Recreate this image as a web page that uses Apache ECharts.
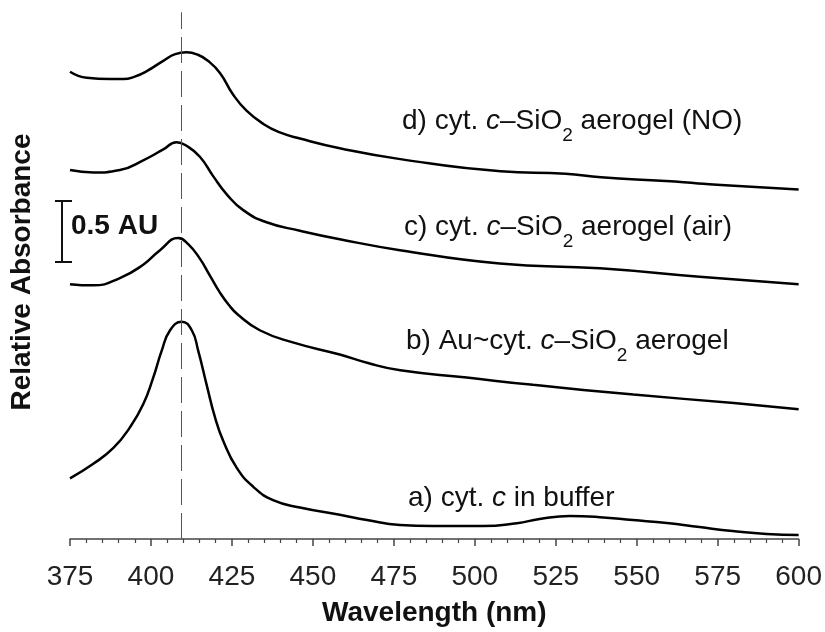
<!DOCTYPE html>
<html>
<head>
<meta charset="utf-8">
<script src="https://cdn.jsdelivr.net/npm/echarts@6/dist/echarts.min.js"></script>
<style>
  html, body { margin: 0; padding: 0; background: #fff; }
  #chart { width: 825px; height: 632px; }
</style>
</head>
<body>
<div id="chart"></div>
<script>
// spectra: [wavelength (nm), relative absorbance (AU, offset per trace)]
const curveA = [
  [375, 0.50], [382.2, 0.62], [388.4, 0.75], [393.5, 0.92], [397.6, 1.11], [400.7, 1.33],
  [403.3, 1.55], [405.9, 1.72], [409.5, 1.79], [412.6, 1.72], [414.6, 1.55], [417.2, 1.27],
  [419.8, 1.00], [422.3, 0.81], [426.4, 0.59], [431.6, 0.43], [437.7, 0.32], [446, 0.26],
  [458.3, 0.20], [466.7, 0.156], [476.9, 0.115], [487, 0.107], [502.5, 0.107],
  [513, 0.13], [520, 0.164], [529.3, 0.189], [538.6, 0.18], [548.8, 0.156], [559.3, 0.131],
  [569.4, 0.098], [579.6, 0.066], [590.1, 0.041], [600, 0.033]
];
const curveB = [
  [375, 2.10], [382.2, 2.09], [390.4, 2.15], [397.6, 2.26], [402.8, 2.38], [408.4, 2.48],
  [411.5, 2.43], [415.1, 2.31], [418.2, 2.17], [421.3, 2.03], [424, 1.93], [426.8, 1.85],
  [433.6, 1.72], [443.8, 1.62], [458.3, 1.52], [467, 1.45], [477, 1.39], [497.5, 1.33],
  [518, 1.27], [549, 1.19], [580, 1.12], [600, 1.07]
];
const curveC = [
  [375, 3.04], [382.2, 3.02], [390.4, 3.04], [397.6, 3.12], [403.8, 3.21], [407.9, 3.27],
  [411, 3.24], [415.1, 3.15], [419.2, 2.99], [423.4, 2.84], [428.5, 2.71], [435.7, 2.61],
  [446, 2.54], [458.3, 2.47], [476.9, 2.38], [507.7, 2.27], [538.6, 2.23], [569.4, 2.16],
  [600, 2.10]
];
const curveD = [
  [375, 3.85], [380.2, 3.80], [387.3, 3.79], [391.5, 3.79], [395, 3.81], [398.7, 3.855],
  [403.8, 3.94], [407.5, 3.995], [411, 4.01], [414.5, 3.99], [417.6, 3.94], [421.3, 3.84],
  [425.4, 3.66], [429.5, 3.53], [434.7, 3.42], [439.8, 3.35], [446, 3.30], [458.3, 3.22],
  [477, 3.13], [508, 3.03], [528, 3.01], [539, 2.98], [559, 2.95], [569, 2.93], [580, 2.91],
  [600, 2.88]
];
const peakLine = 409.5;
const labelTexts = [
  'd) cyt. {i|c}\u2013SiO{sub|2} aerogel (NO)',
  'c) cyt. {i|c}\u2013SiO{sub|2} aerogel (air)',
  'b) Au~cyt. {i|c}\u2013SiO{sub|2} aerogel',
  'a) cyt. {i|c} in buffer'
];

const FONT = '"Liberation Sans", Arial, sans-serif';
const chart = echarts.init(document.getElementById('chart'));

function trace(data) {
  return {
    type: 'line',
    data: data,
    smooth: 0.5,
    showSymbol: false,
    silent: true,
    lineStyle: { color: '#000', width: 2.5 }
  };
}

const labelPos = [[402, 121], [404, 227], [406, 341], [408, 498]];
const rich = {
  i: { fontStyle: 'italic', fontSize: 28, fontFamily: FONT, fill: '#111' },
  sub: { fontSize: 19, fontFamily: FONT, padding: [30, 0, 0, 0], fill: '#111' }
};

const graphics = labelTexts.map((t, k) => ({
  type: 'text',
  x: labelPos[k][0],
  y: labelPos[k][1],
  silent: true,
  style: {
    text: t,
    fontSize: 28,
    fontFamily: FONT,
    fill: '#111',
    textAlign: 'left',
    textVerticalAlign: 'middle',
    rich: rich
  }
}));

// 0.5 AU scale bar
graphics.push(
  { type: 'line', silent: true, shape: { x1: 62, y1: 201, x2: 62, y2: 262 }, style: { stroke: '#111', lineWidth: 2 } },
  { type: 'line', silent: true, shape: { x1: 55, y1: 201, x2: 72, y2: 201 }, style: { stroke: '#111', lineWidth: 2 } },
  { type: 'line', silent: true, shape: { x1: 55, y1: 262, x2: 72, y2: 262 }, style: { stroke: '#111', lineWidth: 2 } },
  {
    type: 'text', silent: true, x: 71, y: 226,
    style: { text: '0.5 AU', fontSize: 28, fontWeight: 'bold', fontFamily: FONT, fill: '#111', textVerticalAlign: 'middle' }
  }
);

const peakSeries = trace(curveA);
peakSeries.markLine = {
  silent: true,
  symbol: ['none', 'none'],
  label: { show: false },
  lineStyle: { color: '#555', width: 1, type: [26, 8] },
  data: [[{ coord: [peakLine, 0] }, { coord: [peakLine, 4.34] }]]
};

chart.setOption({
  animation: false,
  textStyle: { fontFamily: FONT },
  grid: { left: 70, right: 26, top: 5, bottom: 90 },
  xAxis: {
    type: 'value',
    min: 375,
    max: 600,
    interval: 25,
    name: 'Wavelength (nm)',
    nameLocation: 'middle',
    nameGap: 60,
    nameTextStyle: { fontSize: 28, fontWeight: 'bold', color: '#111', fontFamily: FONT },
    axisLine: { lineStyle: { color: '#444', width: 1.5 } },
    axisTick: { length: 7, lineStyle: { color: '#444', width: 1.5 } },
    minorTick: { show: true, splitNumber: 5, length: 4, lineStyle: { color: '#444', width: 1.2 } },
    axisLabel: { fontSize: 28, color: '#222', margin: 24, fontFamily: FONT },
    splitLine: { show: false }
  },
  yAxis: {
    type: 'value',
    min: 0,
    max: 4.4,
    name: 'Relative Absorbance',
    nameLocation: 'middle',
    nameGap: 34,
    nameTextStyle: { fontSize: 28, fontWeight: 'bold', color: '#111', fontFamily: FONT },
    axisLine: { show: false },
    axisTick: { show: false },
    axisLabel: { show: false },
    splitLine: { show: false }
  },
  graphic: graphics,
  series: [peakSeries, trace(curveB), trace(curveC), trace(curveD)]
});
</script>
</body>
</html>
